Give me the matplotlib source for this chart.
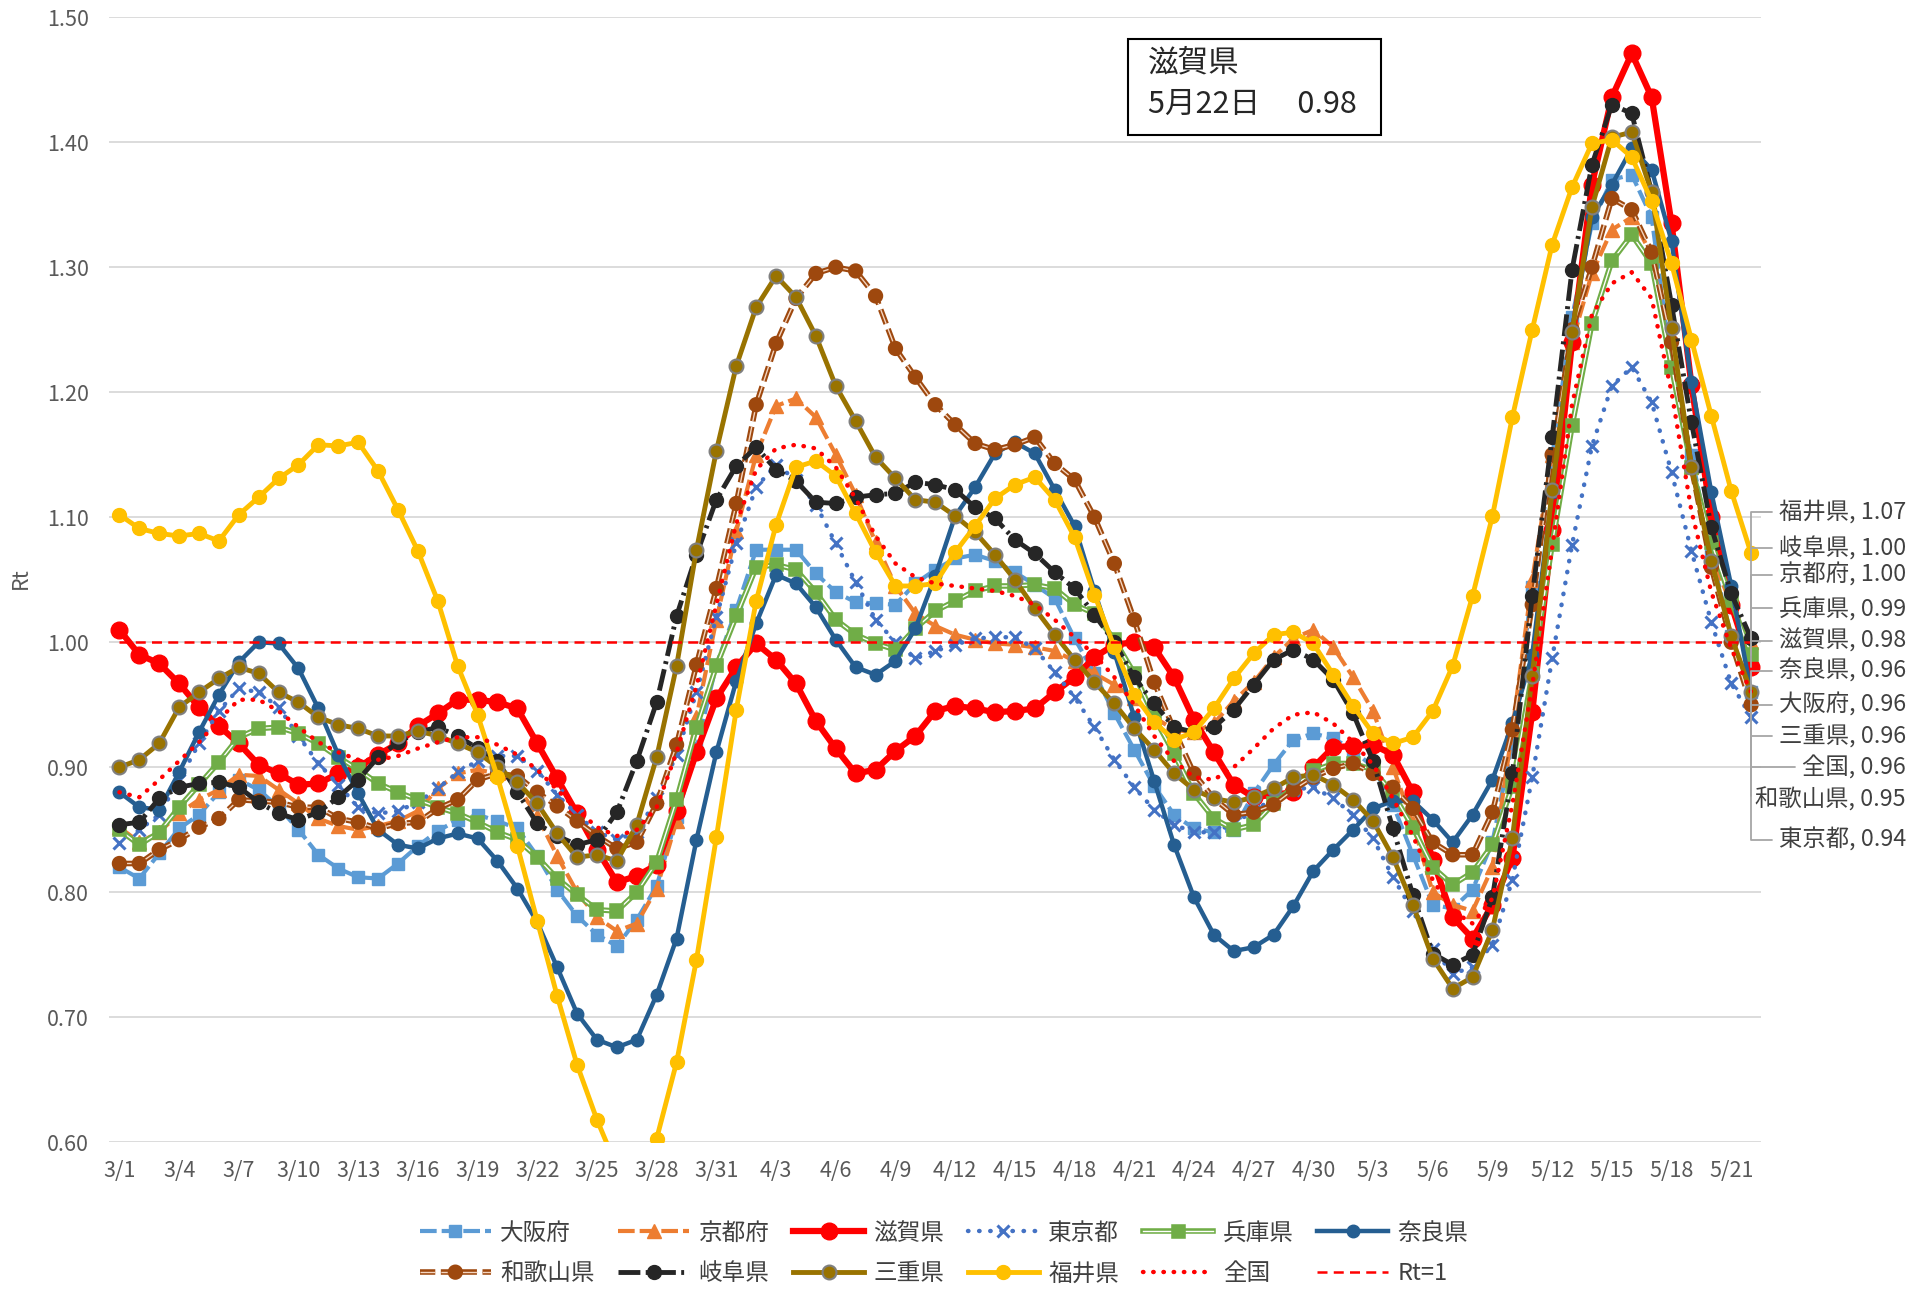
import matplotlib
matplotlib.use("Agg")
import matplotlib.pyplot as plt
import matplotlib.patheffects as pe
from matplotlib.patches import Rectangle
from matplotlib.transforms import blended_transform_factory
import numpy as np

plt.rcParams['font.family'] = ['Noto Sans CJK JP', 'DejaVu Sans']

# ---- data: daily Rt, 3/1 .. 5/22 ----
dates = [f"3/{d}" for d in range(1, 32)] + [f"4/{d}" for d in range(1, 31)] + [f"5/{d}" for d in range(1, 23)]

osaka = [0.820, 0.811, 0.831, 0.851, 0.862, 0.880, 0.890, 0.882, 0.868, 0.850,
         0.830, 0.819, 0.812, 0.811, 0.823, 0.837, 0.849, 0.858, 0.862, 0.857,
         0.851, 0.829, 0.802, 0.781, 0.766, 0.757, 0.778, 0.805, 0.860, 0.915,
         0.982, 1.026, 1.074, 1.074, 1.074, 1.055, 1.040, 1.032, 1.031, 1.030,
         1.047, 1.058, 1.067, 1.070, 1.065, 1.056, 1.046, 1.035, 1.003, 0.975,
         0.943, 0.914, 0.885, 0.862, 0.851, 0.848, 0.850, 0.879, 0.902, 0.922,
         0.927, 0.923, 0.914, 0.900, 0.870, 0.830, 0.790, 0.787, 0.802, 0.840,
         0.920, 1.044, 1.148, 1.260, 1.335, 1.370, 1.374, 1.340, 1.220, 1.150,
         1.070, 1.005, 0.960]
kyoto = [0.852, 0.840, 0.848, 0.863, 0.874, 0.882, 0.894, 0.893, 0.882, 0.871,
         0.859, 0.853, 0.850, 0.853, 0.857, 0.865, 0.883, 0.895, 0.898, 0.895,
         0.885, 0.861, 0.829, 0.800, 0.780, 0.769, 0.775, 0.803, 0.857, 0.940,
         1.018, 1.089, 1.150, 1.189, 1.195, 1.180, 1.150, 1.118, 1.080, 1.045,
         1.023, 1.013, 1.006, 1.002, 0.999, 0.998, 0.996, 0.993, 0.985, 0.975,
         0.966, 0.955, 0.940, 0.930, 0.928, 0.935, 0.953, 0.968, 0.988, 1.003,
         1.010, 0.996, 0.972, 0.945, 0.900, 0.855, 0.800, 0.790, 0.785, 0.820,
         0.930, 1.050, 1.150, 1.240, 1.295, 1.330, 1.340, 1.310, 1.220, 1.140,
         1.070, 1.030, 1.000]
shiga = [1.010, 0.990, 0.983, 0.967, 0.948, 0.933, 0.919, 0.902, 0.895, 0.886,
         0.887, 0.895, 0.900, 0.910, 0.919, 0.933, 0.943, 0.954, 0.954, 0.952,
         0.947, 0.919, 0.891, 0.863, 0.834, 0.808, 0.813, 0.822, 0.865, 0.912,
         0.955, 0.980, 0.999, 0.986, 0.967, 0.937, 0.915, 0.895, 0.898, 0.913,
         0.925, 0.945, 0.949, 0.947, 0.944, 0.945, 0.947, 0.960, 0.972, 0.988,
         0.998, 1.000, 0.996, 0.972, 0.938, 0.912, 0.886, 0.876, 0.878, 0.880,
         0.900, 0.916, 0.917, 0.918, 0.910, 0.880, 0.826, 0.780, 0.763, 0.790,
         0.827, 0.944, 1.090, 1.240, 1.366, 1.436, 1.471, 1.436, 1.335, 1.206,
         1.100, 1.030, 0.980]
tokyo = [0.839, 0.850, 0.862, 0.890, 0.919, 0.945, 0.963, 0.960, 0.948, 0.925,
         0.903, 0.886, 0.868, 0.863, 0.865, 0.872, 0.883, 0.896, 0.905, 0.909,
         0.909, 0.897, 0.878, 0.862, 0.848, 0.842, 0.848, 0.875, 0.910, 0.960,
         1.020, 1.079, 1.124, 1.142, 1.130, 1.110, 1.079, 1.048, 1.018, 1.000,
         0.987, 0.993, 0.998, 1.003, 1.004, 1.004, 0.995, 0.976, 0.956, 0.932,
         0.906, 0.884, 0.866, 0.854, 0.848, 0.848, 0.855, 0.865, 0.875, 0.882,
         0.884, 0.875, 0.862, 0.843, 0.812, 0.785, 0.755, 0.735, 0.740, 0.758,
         0.810, 0.892, 0.987, 1.078, 1.157, 1.205, 1.220, 1.192, 1.136, 1.073,
         1.016, 0.967, 0.940]
hyogo = [0.850, 0.838, 0.848, 0.868, 0.886, 0.904, 0.924, 0.931, 0.932, 0.927,
         0.919, 0.908, 0.898, 0.887, 0.880, 0.874, 0.868, 0.863, 0.856, 0.848,
         0.842, 0.828, 0.811, 0.798, 0.786, 0.785, 0.800, 0.824, 0.874, 0.932,
         0.981, 1.021, 1.060, 1.062, 1.058, 1.040, 1.018, 1.006, 0.999, 0.994,
         1.011, 1.025, 1.033, 1.041, 1.045, 1.045, 1.046, 1.043, 1.030, 1.023,
         1.002, 0.975, 0.940, 0.911, 0.879, 0.859, 0.850, 0.854, 0.871, 0.884,
         0.897, 0.903, 0.903, 0.898, 0.879, 0.852, 0.820, 0.806, 0.816, 0.838,
         0.885, 0.975, 1.078, 1.173, 1.255, 1.305, 1.326, 1.303, 1.220, 1.140,
         1.080, 1.033, 0.990]
nara = [0.880, 0.868, 0.866, 0.896, 0.928, 0.958, 0.984, 1.000, 0.999, 0.979,
        0.947, 0.910, 0.879, 0.850, 0.838, 0.835, 0.843, 0.847, 0.843, 0.825,
        0.803, 0.776, 0.740, 0.703, 0.682, 0.676, 0.682, 0.718, 0.763, 0.842,
        0.912, 0.969, 1.015, 1.054, 1.047, 1.028, 1.002, 0.980, 0.974, 0.985,
        1.011, 1.053, 1.101, 1.124, 1.151, 1.160, 1.151, 1.122, 1.093, 1.041,
        0.992, 0.940, 0.889, 0.838, 0.796, 0.766, 0.753, 0.756, 0.766, 0.789,
        0.817, 0.834, 0.850, 0.867, 0.873, 0.873, 0.858, 0.840, 0.862, 0.890,
        0.935, 0.990, 1.120, 1.250, 1.340, 1.366, 1.395, 1.378, 1.321, 1.208,
        1.120, 1.045, 0.960]
wakayama = [0.823, 0.823, 0.834, 0.842, 0.852, 0.859, 0.874, 0.873, 0.872, 0.868,
            0.868, 0.859, 0.856, 0.851, 0.855, 0.856, 0.867, 0.874, 0.890, 0.895,
            0.893, 0.880, 0.869, 0.857, 0.845, 0.835, 0.840, 0.871, 0.918, 0.982,
            1.043, 1.111, 1.190, 1.239, 1.275, 1.295, 1.300, 1.297, 1.277, 1.235,
            1.212, 1.190, 1.174, 1.159, 1.154, 1.158, 1.164, 1.143, 1.130, 1.100,
            1.063, 1.018, 0.968, 0.930, 0.895, 0.875, 0.862, 0.864, 0.870, 0.882,
            0.892, 0.899, 0.903, 0.895, 0.884, 0.867, 0.840, 0.830, 0.830, 0.864,
            0.930, 1.030, 1.150, 1.250, 1.300, 1.355, 1.346, 1.312, 1.240, 1.140,
            1.060, 1.000, 0.950]
gifu = [0.854, 0.856, 0.875, 0.884, 0.887, 0.888, 0.884, 0.872, 0.863, 0.858,
        0.864, 0.876, 0.890, 0.908, 0.920, 0.928, 0.932, 0.925, 0.915, 0.905,
        0.880, 0.855, 0.845, 0.838, 0.842, 0.864, 0.905, 0.952, 1.021, 1.070,
        1.114, 1.141, 1.156, 1.138, 1.129, 1.112, 1.111, 1.116, 1.118, 1.119,
        1.128, 1.126, 1.122, 1.108, 1.099, 1.082, 1.071, 1.056, 1.043, 1.022,
        1.000, 0.972, 0.951, 0.932, 0.928, 0.932, 0.946, 0.966, 0.986, 0.994,
        0.986, 0.970, 0.943, 0.905, 0.851, 0.798, 0.751, 0.742, 0.750, 0.796,
        0.895, 1.037, 1.164, 1.298, 1.382, 1.430, 1.423, 1.360, 1.270, 1.176,
        1.092, 1.039, 1.003]
mie = [0.900, 0.906, 0.919, 0.948, 0.960, 0.971, 0.980, 0.975, 0.960, 0.952,
       0.940, 0.934, 0.931, 0.925, 0.925, 0.929, 0.925, 0.919, 0.912, 0.900,
       0.888, 0.871, 0.847, 0.828, 0.830, 0.825, 0.854, 0.908, 0.981, 1.074,
       1.153, 1.221, 1.268, 1.293, 1.276, 1.245, 1.205, 1.177, 1.148, 1.131,
       1.114, 1.112, 1.101, 1.088, 1.070, 1.050, 1.027, 1.006, 0.986, 0.968,
       0.951, 0.931, 0.914, 0.895, 0.882, 0.875, 0.872, 0.876, 0.883, 0.892,
       0.894, 0.886, 0.874, 0.857, 0.828, 0.790, 0.747, 0.723, 0.732, 0.770,
       0.843, 0.973, 1.122, 1.248, 1.348, 1.404, 1.408, 1.360, 1.251, 1.140,
       1.065, 1.005, 0.960]
fukui = [1.102, 1.091, 1.087, 1.085, 1.087, 1.081, 1.102, 1.116, 1.131, 1.142,
         1.158, 1.157, 1.160, 1.137, 1.106, 1.073, 1.033, 0.981, 0.942, 0.892,
         0.837, 0.777, 0.717, 0.662, 0.618, 0.580, 0.575, 0.603, 0.664, 0.746,
         0.844, 0.946, 1.033, 1.094, 1.140, 1.145, 1.133, 1.103, 1.072, 1.045,
         1.045, 1.047, 1.072, 1.093, 1.115, 1.126, 1.132, 1.114, 1.084, 1.038,
         0.996, 0.958, 0.936, 0.922, 0.928, 0.947, 0.971, 0.991, 1.006, 1.008,
         0.999, 0.974, 0.949, 0.927, 0.919, 0.924, 0.945, 0.981, 1.037, 1.101,
         1.180, 1.250, 1.318, 1.364, 1.399, 1.402, 1.388, 1.353, 1.303, 1.242,
         1.181, 1.121, 1.071]
national = [0.880, 0.876, 0.890, 0.905, 0.920, 0.938, 0.954, 0.954, 0.945, 0.932,
            0.920, 0.912, 0.906, 0.906, 0.909, 0.915, 0.920, 0.924, 0.924, 0.918,
            0.910, 0.898, 0.882, 0.866, 0.852, 0.845, 0.850, 0.868, 0.912, 0.965,
            1.030, 1.095, 1.138, 1.155, 1.158, 1.155, 1.140, 1.115, 1.085, 1.063,
            1.052, 1.047, 1.045, 1.043, 1.041, 1.037, 1.030, 1.018, 1.004, 0.990,
            0.972, 0.950, 0.925, 0.905, 0.892, 0.890, 0.900, 0.915, 0.931, 0.942,
            0.944, 0.935, 0.920, 0.902, 0.875, 0.845, 0.810, 0.785, 0.775, 0.795,
            0.870, 0.965, 1.075, 1.190, 1.262, 1.287, 1.296, 1.275, 1.200, 1.105,
            1.040, 0.995, 0.960]
rt_one = [1.0] * len(dates)

# right-hand labels (top to bottom) and where they sit (data y)
label_order = ['福井県', '岐阜県', '京都府', '兵庫県', '滋賀県', '奈良県', '大阪府', '三重県', '全国', '和歌山県', '東京都']
label_y = [1.104, 1.075, 1.054, 1.027, 1.001, 0.977, 0.950, 0.925, 0.900, 0.874, 0.842]

x = np.arange(len(dates))
fig = plt.figure(figsize=(19.27, 12.91), dpi=100)
ax = fig.add_axes([0.0568, 0.1152, 0.8571, 0.8715])

GREEN, BROWN = '#70AD47', '#9E480E'
lines = {}
lines['大阪府'] = ax.plot(x, osaka, color='#5B9BD5', lw=3, ls=(0, (4, 1.2)), marker='s', ms=9,
                        mec='#5B9BD5', label='大阪府')[0]
lines['京都府'] = ax.plot(x, kyoto, color='#ED7D31', lw=3, ls=(0, (4, 1.2)), marker='^', ms=10,
                        mec='#ED7D31', label='京都府')[0]
lines['滋賀県'] = ax.plot(x, shiga, color='#FF0000', lw=4.5, marker='o', ms=12, mec='#FF0000',
                        label='滋賀県')[0]
lines['東京都'] = ax.plot(x, tokyo, color='#4472C4', lw=3.2, ls=(0, (0.1, 2.4)), dash_capstyle='round',
                        marker='x', ms=9, mew=2.2, label='東京都')[0]
lines['兵庫県'] = ax.plot(x, hyogo, color='white', lw=1.0, marker='s', ms=6.5, mfc=GREEN, mec=GREEN,
                        path_effects=[pe.Stroke(linewidth=4, foreground=GREEN), pe.Normal()],
                        label='兵庫県')[0]
lines['奈良県'] = ax.plot(x, nara, color='#255E91', lw=3.2, marker='o', ms=9, mec='#255E91',
                        label='奈良県')[0]
lines['和歌山県'] = ax.plot(x, wakayama, color='#F4D5C0', lw=1.0, ls=(0, (11, 4)), marker='o', ms=7,
                         mfc=BROWN, mec=BROWN,
                         path_effects=[pe.Stroke(linewidth=4, foreground=BROWN), pe.Normal()],
                         label='和歌山県')[0]
lines['岐阜県'] = ax.plot(x, gifu, color='#262626', lw=3.5, ls=(0, (4.5, 1.1, 0.6, 1.1)), marker='o',
                        ms=10, mec='#262626', label='岐阜県')[0]
lines['三重県'] = ax.plot(x, mie, color='#997300', lw=3.5, marker='o', ms=10, mec='#7F7F7F', mew=1.5,
                        label='三重県')[0]
lines['福井県'] = ax.plot(x, fukui, color='#FFC000', lw=3.5, marker='o', ms=10, mec='#FFC000',
                        label='福井県')[0]
lines['全国'] = ax.plot(x, national, color='#FF0000', lw=3.2, ls=(0, (0.1, 2.2)), dash_capstyle='round',
                      label='全国')[0]
lines['Rt=1'] = ax.plot(x, rt_one, color='#FF0000', lw=1.8, ls=(0, (4, 2.5)), label='Rt=1')[0]

series = {'大阪府': osaka, '京都府': kyoto, '滋賀県': shiga, '東京都': tokyo, '兵庫県': hyogo,
          '奈良県': nara, '和歌山県': wakayama, '岐阜県': gifu, '三重県': mie, '福井県': fukui,
          '全国': national}

ax.set_xlim(-0.5, len(dates) - 0.5)
ax.set_ylim(0.6, 1.5)
ax.set_yticks(np.arange(0.6, 1.501, 0.1))
ax.set_yticklabels([f"{v:.2f}" for v in np.arange(0.6, 1.501, 0.1)])
ax.set_xticks(x[::3])
ax.set_xticklabels(dates[::3])
ax.tick_params(length=0, labelsize=15.5, colors='#595959')
ax.tick_params(axis='x', pad=13)
ax.tick_params(axis='y', pad=15)
ax.yaxis.grid(True, color='#D9D9D9', lw=1.3)
ax.set_axisbelow(True)
for s in ax.spines.values():
    s.set_visible(False)

fig.text(0.0108, 0.5524, 'Rt', rotation=90, ha='center', va='center', fontsize=15.5, color='#595959')

# labels on the right with leader lines
trans = blended_transform_factory(fig.transFigure, ax.transData)
for name, ly in zip(label_order, label_y):
    vals = series[name]
    ax.annotate(f"{name}, {vals[-1]:.2f}", xy=(x[-1], vals[-1]), xycoords='data',
                xytext=(0.989, ly), textcoords=trans, ha='right', va='center',
                fontsize=16.8, color='#404040', annotation_clip=False,
                arrowprops=dict(arrowstyle='-', color='#A6A6A6', lw=1.3, shrinkA=3, shrinkB=0,
                                relpos=(0, 0.5), connectionstyle='angle,angleA=0,angleB=90,rad=0'))

# boxed note
fig.add_artist(Rectangle((0.5855, 0.8952), 0.1314, 0.0743, transform=fig.transFigure,
                         fill=False, edgecolor='black', lw=1.5))
fig.text(0.5957, 0.9515, '滋賀県', ha='left', va='center', fontsize=22, color='#262626')
fig.text(0.5957, 0.9195, '5月22日\u3000 0.98', ha='left', va='center', fontsize=22, color='#262626')

# legend: two rows in the original order
order = ['大阪府', '和歌山県', '京都府', '岐阜県', '滋賀県', '三重県',
         '東京都', '福井県', '兵庫県', '全国', '奈良県', 'Rt=1']
fig.legend([lines[k] for k in order], order, loc='center', bbox_to_anchor=(0.49, 0.029),
           ncol=6, frameon=False, fontsize=17, handlelength=3.0, handletextpad=0.4,
           columnspacing=1.0, labelspacing=0.75, numpoints=1, labelcolor='#404040')

fig.savefig('out.png', dpi=100)
